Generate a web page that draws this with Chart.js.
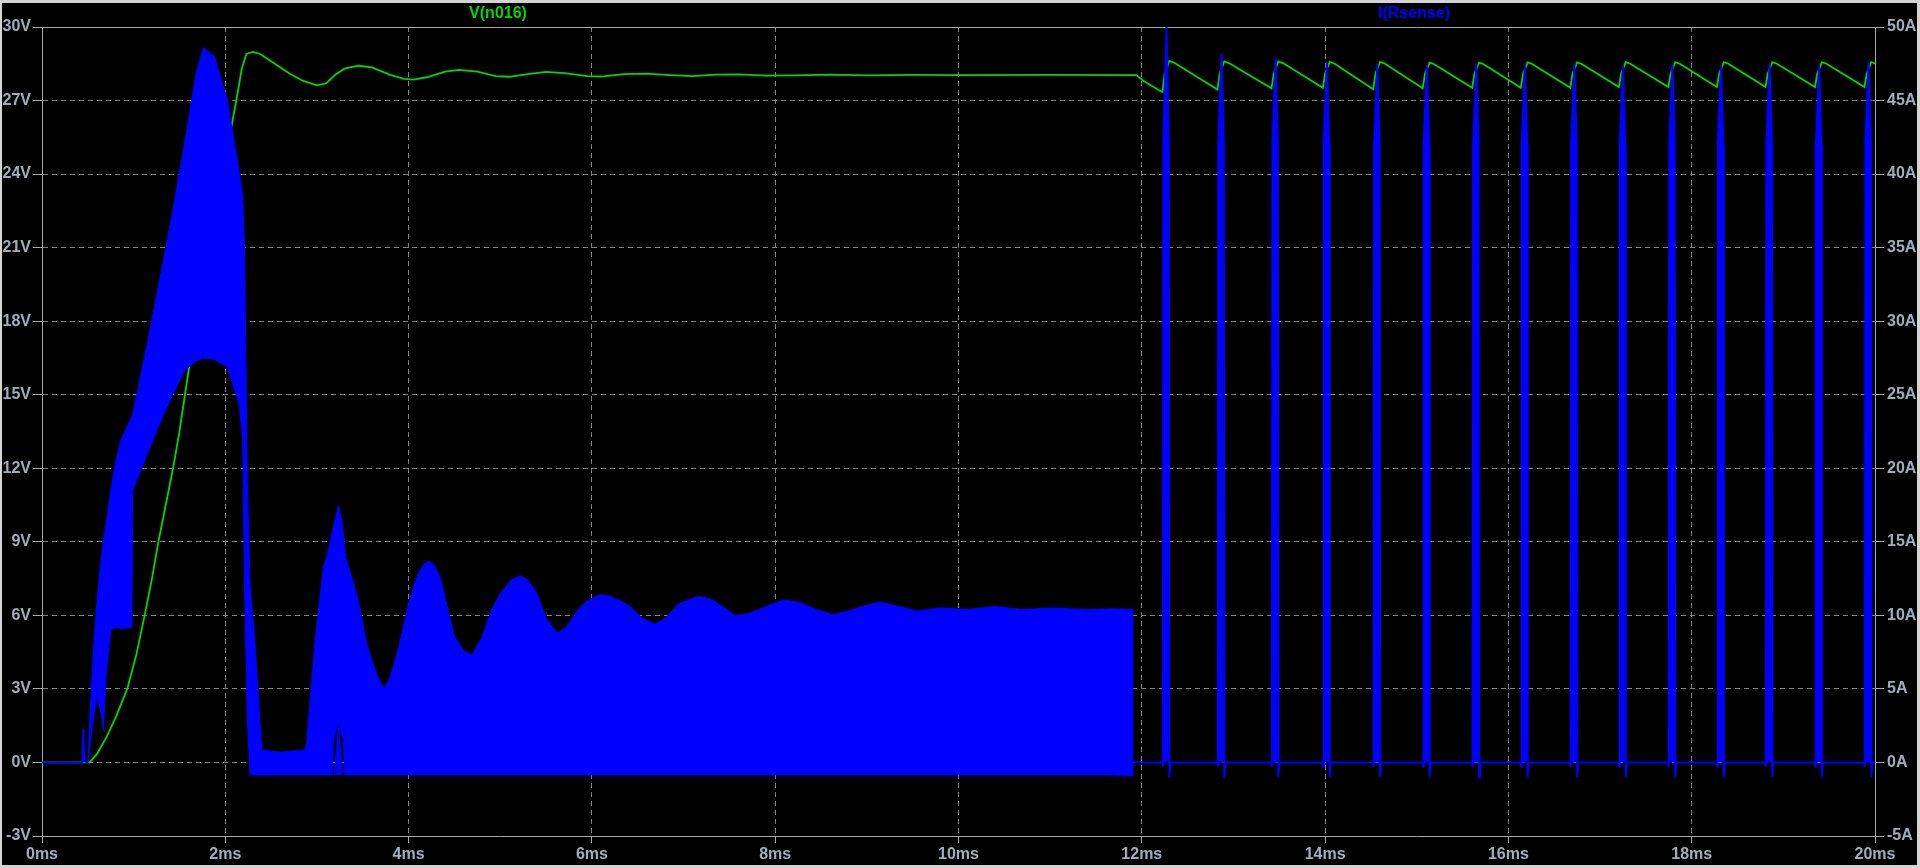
<!DOCTYPE html>
<html>
<head>
<meta charset="utf-8">
<title>V(n016) / I(Rsense)</title>
<script src="https://cdn.jsdelivr.net/npm/chart.js@4.4.1/dist/chart.umd.min.js"></script>
<style>
  html, body { margin: 0; padding: 0; background: #000; overflow: hidden; }
  #wrap { width: 1920px; height: 868px; }
</style>
</head>
<body>
<div id="wrap"><canvas id="trace" width="1920" height="868"></canvas></div>
<script>
// ---- axes ----
const xTicks = [0, 2, 4, 6, 8, 10, 12, 14, 16, 18, 20];      // ms
const vTicks = [-3, 0, 3, 6, 9, 12, 15, 18, 21, 24, 27, 30];  // V
const iTicks = [-5, 0, 5, 10, 15, 20, 25, 30, 35, 40, 45, 50]; // A

// ---- I(Rsense): start-up baseline with the small blip ----
const tStart = [0, 0.44, 0.45, 0.46, 0.50];
const iStart = [0, 0, 2.3, 0.1, 0];

// ---- I(Rsense): dense switching band, upper / lower envelope (A) ----
const tBand = [0.50, 0.53, 0.56, 0.60, 0.64, 0.67, 0.70, 0.75, 0.80, 0.86, 0.98, 0.99,
  1.15, 1.28, 1.41, 1.55, 1.68, 1.76, 1.88, 2.02, 2.15, 2.19, 2.21, 2.24, 2.27, 2.32,
  2.375, 2.40, 2.60, 2.87, 2.89, 2.98, 3.07, 3.11, 3.17, 3.18, 3.235, 3.27, 3.29, 3.30,
  3.31, 3.40, 3.45, 3.55, 3.65, 3.73, 3.80, 3.90, 4.00, 4.10, 4.17, 4.22, 4.28, 4.35,
  4.45, 4.50, 4.60, 4.69, 4.80, 4.90, 5.00, 5.12, 5.22, 5.30, 5.40, 5.50, 5.62, 5.72,
  5.85, 5.97, 6.09, 6.20, 6.40, 6.55, 6.69, 6.80, 6.95, 7.16, 7.30, 7.45, 7.56, 7.70,
  7.90, 8.09, 8.25, 8.45, 8.63, 8.80, 9.00, 9.16, 9.35, 9.55, 9.80, 10.10, 10.40, 10.70,
  11.00, 11.40, 11.70, 11.91];
const bandHi = [0, 4.0, 7.5, 11.0, 13.5, 15.1, 16.2, 18.5, 20.3, 21.9, 23.5, 23.7,
  28.5, 32.7, 36.9, 41.9, 46.8, 48.6, 48.0, 45.1, 40.2, 38.5, 35.0, 19.0, 12.0, 8.5,
  3.0, 0.85, 0.7, 0.85, 1.5, 8.3, 13.3, 14.0, 15.8, 16.0, 17.5, 16.4, 15.5, 14.8,
  14.0, 12.2, 11.0, 7.9, 6.0, 5.0, 5.8, 8.0, 10.8, 12.8, 13.5, 13.7, 13.4, 12.5,
  9.8, 8.6, 7.6, 7.3, 8.5, 10.3, 11.5, 12.4, 12.7, 12.4, 11.5, 9.8, 8.8, 9.2,
  10.4, 11.1, 11.4, 11.3, 10.7, 9.8, 9.4, 9.8, 10.8, 11.3, 11.1, 10.5, 10.0, 10.1,
  10.6, 11.05, 10.9, 10.4, 10.05, 10.3, 10.7, 10.9, 10.6, 10.3, 10.5, 10.4, 10.6, 10.4,
  10.5, 10.4, 10.45, 10.4];
const bandLo = [0, 1.5, 3.0, 4.5, 3.5, 2.2, 6.0, 9.0, 9.2, 9.1, 9.2, 18.5,
  21.0, 23.0, 24.8, 26.6, 27.3, 27.5, 27.4, 26.9, 24.4, 21.9, 12.0, 3.0, -0.85, -0.85,
  -0.85, -0.85, -0.85, -0.85, -0.85, -0.85, -0.85, -0.85, -0.85, 1.5, 2.9, 2.0, 1.5, -0.85,
  -0.85, -0.85, -0.85, -0.85, -0.85, -0.85, -0.85, -0.85, -0.85, -0.85, -0.85, -0.85, -0.85, -0.85,
  -0.85, -0.85, -0.85, -0.85, -0.85, -0.85, -0.85, -0.85, -0.85, -0.85, -0.85, -0.85, -0.85, -0.85,
  -0.85, -0.85, -0.85, -0.85, -0.85, -0.85, -0.85, -0.85, -0.85, -0.85, -0.85, -0.85, -0.85, -0.85,
  -0.85, -0.85, -0.85, -0.85, -0.85, -0.85, -0.85, -0.85, -0.85, -0.85, -0.85, -0.85, -0.85, -0.85,
  -0.85, -0.85, -0.85, -0.9];
// small spike inside the notch at ~3.2ms
const tNotch = [3.19, 3.235, 3.28];
const iNotch = [-0.85, 2.7, -0.85];

// ---- I(Rsense): pulses after 12ms ----
const spikeT = [12.27, 12.87, 13.46, 14.02, 14.57, 15.11, 15.65, 16.18, 16.72, 17.25,
  17.79, 18.32, 18.85, 19.39, 19.93];
const spikePeak = [50, 48.2, 47.9, 47.6, 47.5, 47.4, 47.5, 47.4, 47.5, 47.4,
  47.5, 47.4, 47.5, 47.4, 47.6];
const spikeShoulder = 42;

// ---- V(n016) ----
const tV = [0, 0.52, 0.60, 0.70, 0.80, 0.93, 1.03, 1.12, 1.20, 1.27, 1.35, 1.43, 1.50,
  1.58, 1.65, 1.75, 1.85, 1.95, 2.05, 2.12, 2.18, 2.23, 2.30, 2.38, 2.50, 2.70, 2.85,
  3.00, 3.10, 3.20, 3.30, 3.45, 3.60, 3.80, 3.95, 4.05, 4.20, 4.40, 4.55, 4.75, 4.95,
  5.10, 5.30, 5.50, 5.70, 5.95, 6.10, 6.35, 6.60, 6.85, 7.10, 7.35, 7.60, 7.90, 8.20,
  8.60, 9.00, 9.50, 10.00, 11.00, 11.94, 12.02, 12.22];
const vV = [0, 0, 0.35, 1.0, 1.8, 3.0, 4.4, 6.0, 7.5, 9.0, 10.5, 12.0, 13.5,
  15.5, 17.2, 19.5, 21.8, 23.8, 25.6, 27.0, 28.3, 28.9, 28.98, 28.9, 28.6, 28.1, 27.8,
  27.62, 27.7, 28.05, 28.3, 28.42, 28.35, 28.05, 27.88, 27.85, 27.95, 28.18, 28.25, 28.18, 28.0,
  27.97, 28.08, 28.17, 28.12, 28.0, 27.98, 28.08, 28.1, 28.04, 28.0, 28.06, 28.07, 28.02, 28.03,
  28.06, 28.03, 28.05, 28.04, 28.05, 28.04, 27.8, 27.35];
const sawTrough = [27.35, 27.45, 27.5, 27.52, 27.46, 27.5, 27.52, 27.52, 27.52, 27.55,
  27.55, 27.55, 27.55, 27.55, 27.55];
const sawPeak = [28.62, 28.6, 28.6, 28.58, 28.58, 28.55, 28.55, 28.56, 28.56, 28.57,
  28.57, 28.57, 28.57, 28.57, 28.57];

// ---- styles ----
const GREEN = "#00d800";
const BLUE = "#0000ff";
const FRAME = "#a8a8a8";
const GRID = "#808080";
const LABEL = "#a4acb8";
const FONT = "'Liberation Sans', Arial, sans-serif";

const pairs = (xs, ys) => xs.map((x, i) => ({ x, y: ys[i] }));

function tailPoints() {
  const pts = [{ x: 11.91, y: 0 }];
  spikeT.forEach((t, k) => {
    pts.push({ x: t - 0.045, y: 0 });
    pts.push({ x: t - 0.04, y: -0.3 });
    pts.push({ x: t - 0.035, y: spikeShoulder });
    pts.push({ x: t, y: spikePeak[k] });
    pts.push({ x: t + 0.025, y: spikeShoulder });
    pts.push({ x: t + 0.03, y: -1.0 });
    pts.push({ x: t + 0.04, y: 0 });
  });
  pts.push({ x: 20, y: 0 });
  return pts;
}

function voltagePoints() {
  const pts = pairs(tV, vV);
  spikeT.forEach((t, k) => {
    pts.push({ x: t - 0.045, y: sawTrough[k] });
    pts.push({ x: t - 0.02, y: 28.1 });
    pts.push({ x: t + 0.03, y: sawPeak[k] });
    if (k < spikeT.length - 1) pts.push({ x: t + 0.08, y: sawPeak[k] - 0.07 });
  });
  pts.push({ x: 20, y: 28.5 });
  return pts;
}

// ========================
// FRAME + TITLES
// ========================
const scopeFrame = {
  id: "scopeFrame",
  beforeDraw(chart) {
    const c = chart.ctx;
    c.save();
    c.fillStyle = "#d4d4d4";
    c.fillRect(0, 0, chart.width, chart.height);
    c.fillStyle = "#000";
    c.fillRect(2, 3, chart.width - 5, chart.height - 6);
    c.restore();
  },
  beforeDatasetsDraw(chart) {
    const a = chart.chartArea;
    const c = chart.ctx;
    c.save();
    c.strokeStyle = FRAME;
    c.lineWidth = 1;
    c.beginPath();
    c.moveTo(a.left, Math.round(a.top) + 0.5);
    c.lineTo(a.right, Math.round(a.top) + 0.5);
    c.stroke();
    c.restore();
  },
  afterDraw(chart) {
    const c = chart.ctx;
    c.save();
    c.font = "bold 16px " + FONT;
    c.textAlign = "center";
    c.textBaseline = "middle";
    c.fillStyle = GREEN;
    c.fillText("V(n016)", 498, 14);
    c.fillStyle = BLUE;
    c.fillText("I(Rsense)", 1414, 14);
    c.restore();
  }
};

const edgeless = (n) => (ctx) => (ctx.index === 0 || ctx.index === n - 1) ? "rgba(0,0,0,0)" : GRID;
const tickFont = { family: FONT, size: 16, weight: "bold" };

new Chart(document.getElementById("trace"), {
  type: "line",
  data: {
    datasets: [
      { data: pairs(tStart, iStart), yAxisID: "yI", borderColor: BLUE, borderWidth: 2, fill: false },
      { data: tailPoints(), yAxisID: "yI", borderColor: BLUE, backgroundColor: BLUE, borderWidth: 2,
        fill: { value: 0 } },
      { data: pairs(tNotch, iNotch), yAxisID: "yI", borderColor: BLUE, backgroundColor: BLUE, borderWidth: 1,
        fill: { value: -0.85 } },
      { data: pairs(tBand, bandHi), yAxisID: "yI", borderColor: BLUE, backgroundColor: BLUE, borderWidth: 1,
        fill: "+1" },
      { data: pairs(tBand, bandLo), yAxisID: "yI", borderColor: BLUE, borderWidth: 1, fill: false },
      { data: voltagePoints(), yAxisID: "yV", borderColor: GREEN, borderWidth: 1.8, fill: false }
    ]
  },
  options: {
    responsive: false,
    animation: false,
    events: [],
    layout: { padding: { top: 27, left: 0, right: 0, bottom: 0 } },
    elements: { point: { radius: 0 }, line: { tension: 0 } },
    plugins: { legend: { display: false }, tooltip: { enabled: false } },
    scales: {
      x: {
        type: "linear",
        min: 0, max: 20,
        afterBuildTicks: s => { s.ticks = xTicks.map(v => ({ value: v })); },
        afterFit: s => { s.height = 32; },
        ticks: { color: LABEL, font: tickFont, padding: 2, maxRotation: 0, autoSkip: false,
          callback: v => v + "ms" },
        grid: { color: edgeless(xTicks.length), tickColor: FRAME, tickLength: 7, lineWidth: 1 },
        border: { display: true, color: FRAME, dash: [5, 4] }
      },
      yV: {
        type: "linear",
        position: "left",
        min: -3, max: 30,
        afterBuildTicks: s => { s.ticks = vTicks.map(v => ({ value: v })); },
        afterFit: s => { s.width = 42; },
        ticks: { color: LABEL, font: tickFont, padding: 2, autoSkip: false,
          callback: v => v + "V" },
        grid: { color: edgeless(vTicks.length), tickColor: FRAME, tickLength: 9, lineWidth: 1 },
        border: { display: true, color: FRAME, dash: [5, 4] }
      },
      yI: {
        type: "linear",
        position: "right",
        min: -5, max: 50,
        afterBuildTicks: s => { s.ticks = iTicks.map(v => ({ value: v })); },
        afterFit: s => { s.width = 45; },
        ticks: { color: LABEL, font: tickFont, padding: 3, autoSkip: false,
          callback: v => v + "A" },
        grid: { drawOnChartArea: false, tickColor: FRAME, tickLength: 9 },
        border: { display: true, color: FRAME }
      }
    }
  },
  plugins: [scopeFrame]
});
</script>
</body>
</html>
